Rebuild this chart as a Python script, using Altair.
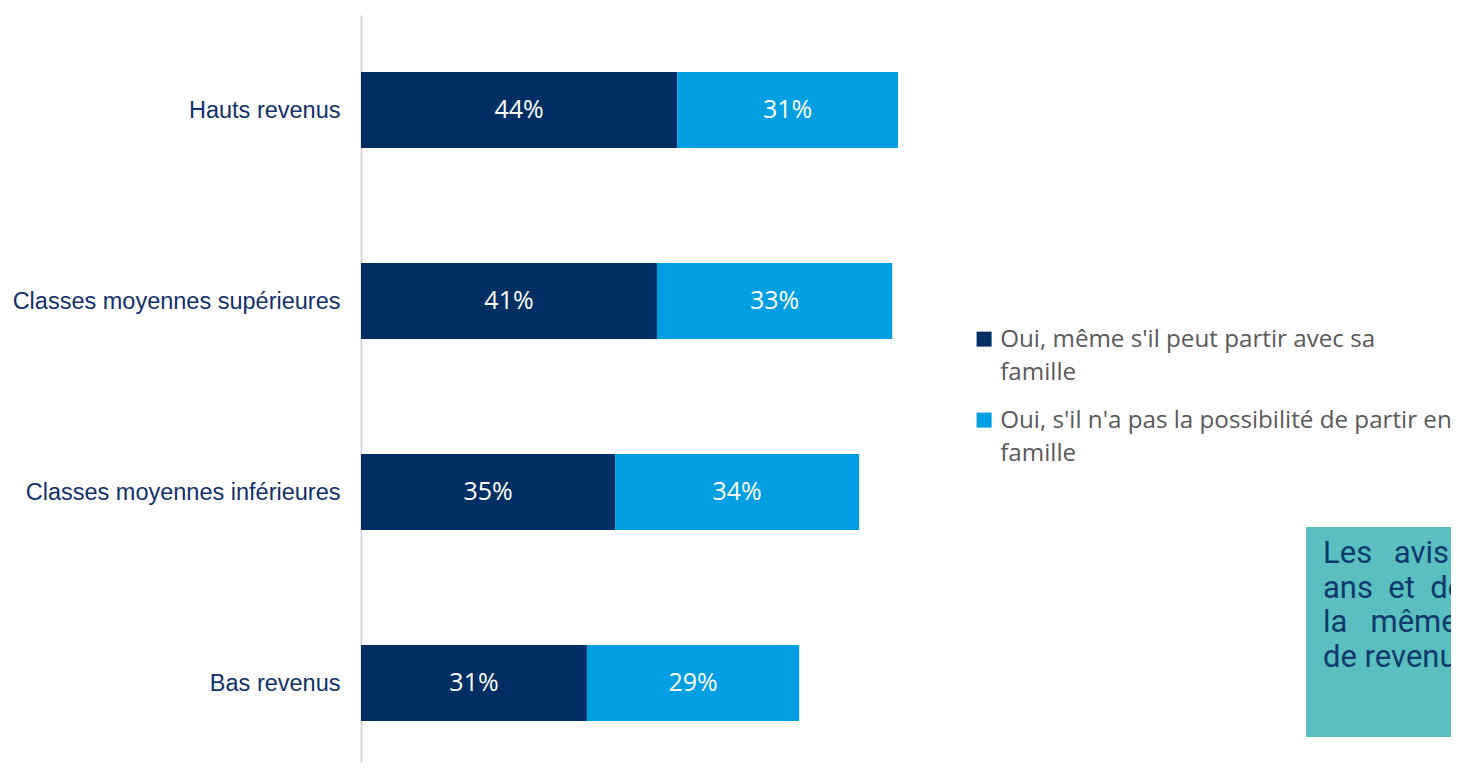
import altair as alt
import pandas as pd

categories = ["Hauts revenus", "Classes moyennes supérieures", "Classes moyennes inférieures", "Bas revenus"]
series = ["Oui, même s'il peut partir avec sa|famille",
          "Oui, s'il n'a pas la possibilité de partir en|famille"]
v_same = [43.8, 41.0, 35.2, 31.3]
v_alone = [30.6, 32.6, 33.8, 29.4]
lab_same = ["44%", "41%", "35%", "31%"]
lab_alone = ["31%", "33%", "34%", "29%"]
colors = ["#002F63", "#009FE3"]
box_lines = ["Les\u00a0\u00a0\u2009avis\u00a0\u00a0des\u00a0\u00a018-24",
             "ans\u00a0\u00a0et\u00a0\u00a0des\u00a0\u00a0seniors",
             "la\u00a0\u00a0\u00a0même\u00a0\u00a0tendance",
             "de revenus"]

rows = []
for i, c in enumerate(categories):
    rows.append({"cat": c, "serie": series[0], "order": 0, "v": v_same[i], "lab": lab_same[i]})
    rows.append({"cat": c, "serie": series[1], "order": 1, "v": v_alone[i], "lab": lab_alone[i]})
df = pd.DataFrame(rows)

yenc = alt.Y("cat:N", sort=categories, title=None,
             scale=alt.Scale(paddingInner=0.602, paddingOuter=0.259, align=0.576),
             axis=alt.Axis(domainColor="#D9D9D9", domainWidth=2, ticks=False,
                           labelPadding=21, labelFontSize=23.5, labelColor="#12306A",
                           labelFont="Liberation Sans", labelLimit=400, labelOffset=12))

base = alt.Chart(df).transform_stack(
    stack="v", groupby=["cat"], as_=["x0", "x1"], sort=[alt.SortField("order")]
).transform_calculate(mid="(datum.x0 + datum.x1) / 2")

xscale = alt.Scale(domain=[0, 151.0], nice=False, zero=True)

bars = base.mark_bar().encode(
    x=alt.X("x0:Q", scale=xscale, axis=None),
    x2="x1:Q",
    y=yenc,
    color=alt.Color("serie:N", sort=series,
                    scale=alt.Scale(domain=series, range=colors),
                    legend=alt.Legend(title=None, orient="none", legendX=611, legendY=312,
                                      symbolType="square", symbolSize=225, symbolStrokeWidth=0,
                                      labelFontSize=24.2, labelColor="#595959", labelFont="Open Sans",
                                      labelLimit=700, labelExpr="split(datum.label, '|')",
                                      labelBaseline="top", labelOffset=4, rowPadding=22)),
)

labels = base.mark_text(color="white", fontSize=25, font="Open Sans").encode(
    x=alt.X("mid:Q", scale=xscale),
    y=alt.Y("cat:N", sort=categories),
    text="lab:N",
)

box_df = pd.DataFrame({"k": [0]})
box = alt.Chart(box_df).mark_rect(color="#5BBFBF").encode(
    x=alt.value(945), x2=alt.value(1300), y=alt.value(512), y2=alt.value(722)
)
box_text = alt.Chart(box_df).mark_text(
    text=box_lines, align="left", baseline="alphabetic", fontSize=31, font="Roboto",
    color="#0B3A6B", lineHeight=34.5
).encode(x=alt.value(962), y=alt.value(548))

chart = alt.layer(bars, labels, box, box_text).properties(
    width=1090, height=748,
    autosize=alt.AutoSizeParams(type="none"),
    padding={"left": 353, "top": 7, "right": 0, "bottom": 0},
    config=alt.Config(view=alt.ViewConfig(stroke=None),
                      style={"guide-label": {"lineHeight": 33, "dy": -11}}),
)

chart.save("out.html", embed_options={"renderer": "svg", "actions": False})
